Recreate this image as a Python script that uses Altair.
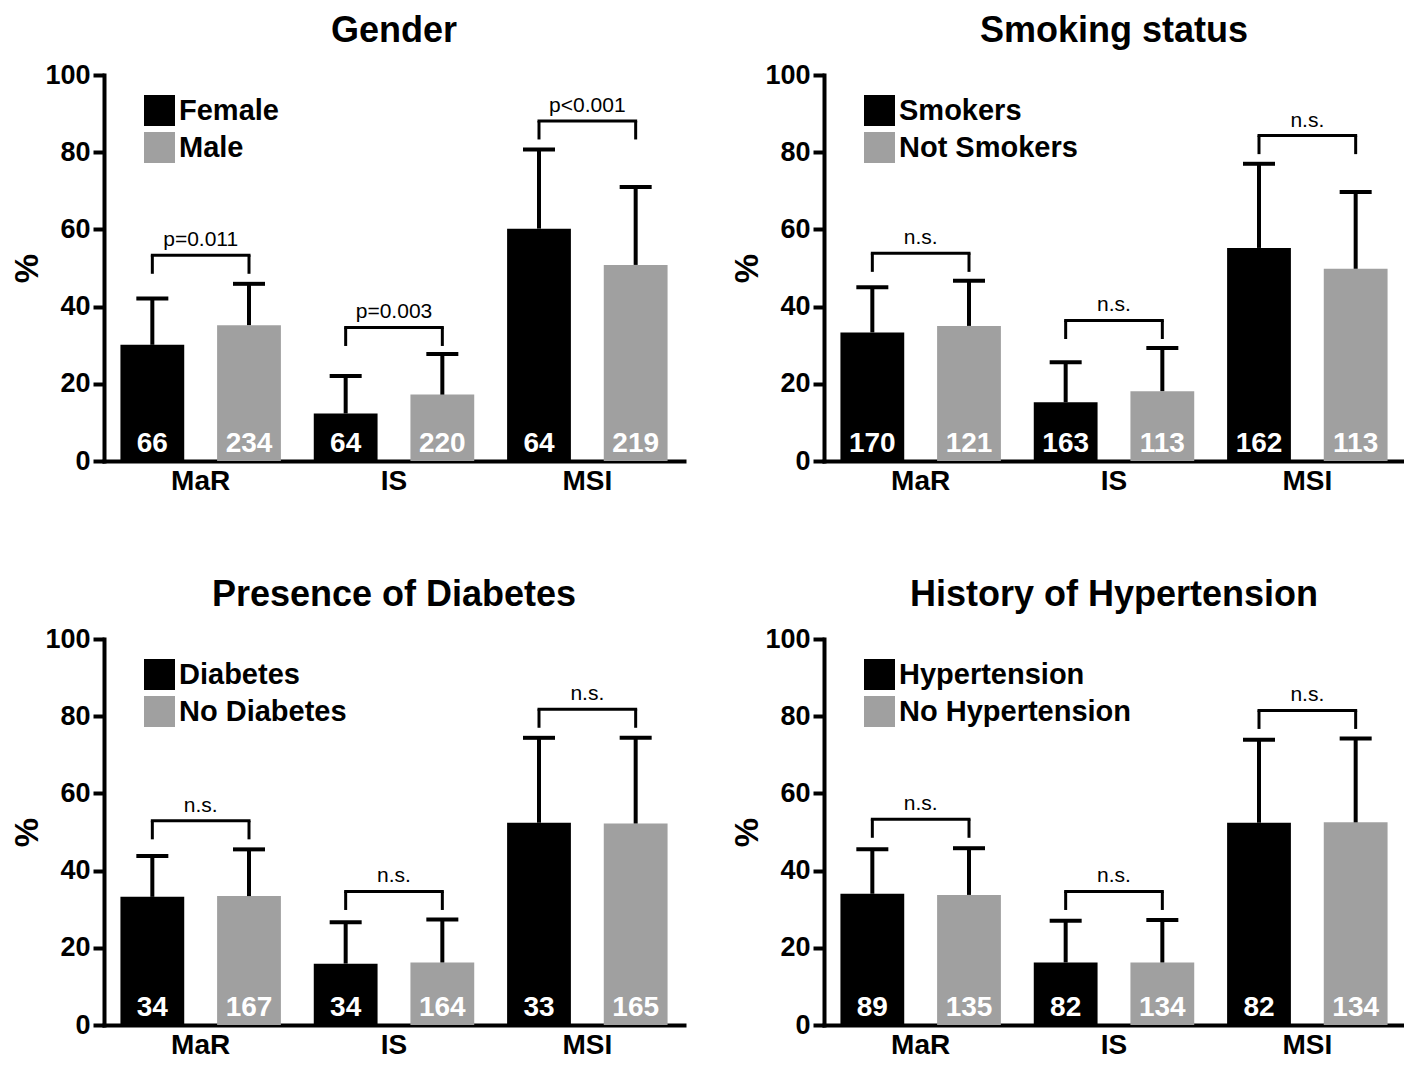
import altair as alt
import pandas as pd

categories = ["MaR", "IS", "MSI"]

titles = ["Gender", "Smoking status", "Presence of Diabetes", "History of Hypertension"]
groups = [["Female", "Male"], ["Smokers", "Not Smokers"], ["Diabetes", "No Diabetes"],
          ["Hypertension", "No Hypertension"]]

# bar heights (%) for first / second group
values_a = [[30.1, 12.3, 60.2], [33.3, 15.2, 55.2], [33.2, 15.9, 52.4], [34.0, 16.2, 52.4]]
values_b = [[35.2, 17.2, 50.8], [35.0, 18.1, 49.8], [33.4, 16.2, 52.2], [33.7, 16.2, 52.5]]
# upper end of error bars
errors_a = [[42.1, 22.0, 80.7], [45.0, 25.6, 77.0], [43.8, 26.6, 74.4], [45.5, 27.0, 73.9]]
errors_b = [[45.9, 27.7, 71.0], [46.7, 29.3, 69.7], [45.5, 27.3, 74.4], [45.8, 27.2, 74.2]]
# sample sizes
n_a = [[66, 64, 64], [170, 163, 162], [34, 34, 33], [89, 82, 82]]
n_b = [[234, 220, 219], [121, 113, 113], [167, 164, 165], [135, 134, 134]]
# significance brackets
bracket_top = [[53.3, 34.6, 88.1], [53.8, 36.4, 84.3], [52.9, 34.6, 81.8], [53.3, 34.6, 81.5]]
bracket_labels = [["p=0.011", "p=0.003", "p<0.001"], ["n.s.", "n.s.", "n.s."],
                  ["n.s.", "n.s.", "n.s."], ["n.s.", "n.s.", "n.s."]]
LEG = 4.8  # bracket leg length in %

W = 580
H = 386
FONT = "Liberation Sans"
GRAY = "#a0a0a0"
XO_PI, XO_PO = 0.34, 0.17
xo_step = (W / 3) / (2 - XO_PI + 2 * XO_PO)


def panel(i):
    g = groups[i]
    rows = []
    for j, c in enumerate(categories):
        rows.append(dict(cat=c, group=g[0], value=values_a[i][j], err=errors_a[i][j], n=n_a[i][j]))
        rows.append(dict(cat=c, group=g[1], value=values_b[i][j], err=errors_b[i][j], n=n_b[i][j]))
    bars_df = pd.DataFrame(rows)
    br_rows, leg_rows = [], []
    for j, c in enumerate(categories):
        t = bracket_top[i][j]
        br_rows.append(dict(cat=c, top=t, label=bracket_labels[i][j]))
        for gg in g:
            leg_rows.append(dict(cat=c, group=gg, top=t, bottom=t - LEG))
    br_df = pd.DataFrame(br_rows)
    leg_df = pd.DataFrame(leg_rows)

    x = alt.X("cat:N", sort=categories,
              scale=alt.Scale(paddingInner=0, paddingOuter=0),
              axis=alt.Axis(title=None, labelAngle=0, ticks=False, domainWidth=4,
                            domainColor="black", domainCap="square",
                            labelFont=FONT, labelFontSize=28, labelFontWeight="bold",
                            labelColor="black", labelPadding=6))
    xo = alt.XOffset("group:N", sort=g,
                     scale=alt.Scale(domain=g, paddingInner=XO_PI, paddingOuter=XO_PO))
    yscale = alt.Scale(domain=[0, 100], nice=False)
    yaxis = alt.Axis(title="%", values=[0, 20, 40, 60, 80, 100], grid=False,
                     domainWidth=4, domainColor="black", domainCap="square",
                     tickWidth=4, tickSize=11, tickColor="black",
                     labelFont=FONT, labelFontSize=27, labelFontWeight="bold",
                     labelColor="black", labelPadding=3,
                     titleFont=FONT, titleFontSize=33, titleFontWeight="bold",
                     titleColor="black", titlePadding=0)

    base = alt.Chart(bars_df)
    bars = base.mark_bar().encode(
        x=x, xOffset=xo,
        y=alt.Y("value:Q", scale=yscale, axis=yaxis),
        color=alt.Color("group:N", scale=alt.Scale(domain=g, range=["#000000", GRAY]),
                        legend=alt.Legend(orient="none", legendX=40, legendY=20, title=None,
                                          symbolType="square", symbolSize=961,
                                          symbolStrokeWidth=0, symbolOpacity=1,
                                          labelFont=FONT, labelFontSize=29,
                                          labelFontWeight="bold", labelColor="black",
                                          labelOffset=4, labelLimit=400, rowPadding=6,
                                          padding=0)),
    )
    stems = base.mark_rule(color="black", strokeWidth=4).encode(
        x=x, xOffset=xo, y=alt.Y("value:Q", scale=yscale), y2="err:Q")
    caps = base.mark_tick(color="black", thickness=4, size=32, opacity=1).encode(
        x=x, xOffset=xo, y=alt.Y("err:Q", scale=yscale))
    ntext = base.mark_text(color="white", font=FONT, fontSize=28, fontWeight="bold",
                           baseline="alphabetic", dy=-9).encode(
        x=x, xOffset=xo, y=alt.datum(0), text="n:Q")
    bh = alt.Chart(br_df).mark_tick(color="black", thickness=3, size=xo_step + 3,
                                    opacity=1).encode(
        x=x, y=alt.Y("top:Q", scale=yscale))
    blab = alt.Chart(br_df).mark_text(color="black", font=FONT, fontSize=21,
                                      baseline="alphabetic", dy=-9).encode(
        x=x, y=alt.Y("top:Q", scale=yscale), text="label:N")
    legs = alt.Chart(leg_df).mark_rule(color="black", strokeWidth=3).encode(
        x=x, xOffset=xo, y=alt.Y("top:Q", scale=yscale), y2="bottom:Q")

    return alt.layer(bars, stems, caps, ntext, bh, legs, blab).properties(
        width=W, height=H,
        title=alt.TitleParams(titles[i], font=FONT, fontSize=36, fontWeight="bold",
                              color="black", anchor="middle", frame="group", offset=11))


def hrow(a, b):
    return alt.hconcat(panel(a), panel(b), spacing=47).resolve_scale(
        color="independent", xOffset="independent", x="independent", y="independent"
    ).resolve_legend(color="independent")


chart = alt.vconcat(hrow(0, 1), hrow(2, 3), spacing=82).resolve_scale(
    color="independent", xOffset="independent", x="independent", y="independent"
).resolve_legend(color="independent").properties(
    padding={"left": 3, "top": 5, "right": 0, "bottom": 0}, background="white"
).configure_view(stroke="transparent", strokeWidth=0)

chart.save("out.html", embed_options={"renderer": "svg", "actions": False})
